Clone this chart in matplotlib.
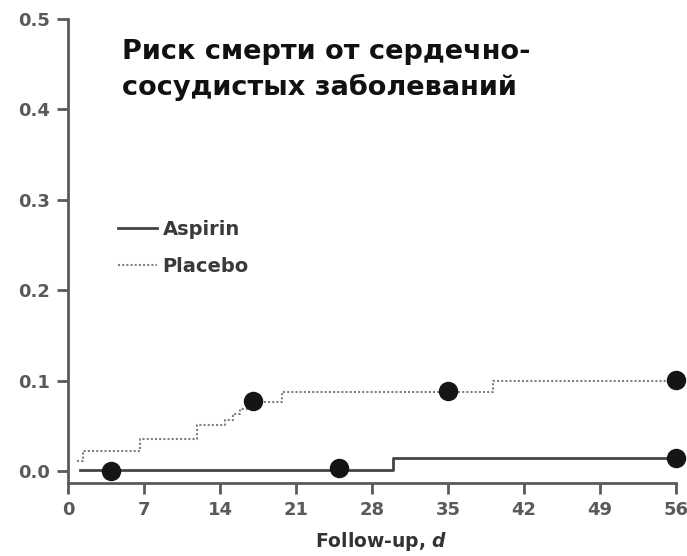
import matplotlib.pyplot as plt

# Kaplan-Meier style cumulative risk
placebo_t = [0.8, 1.4, 6.6, 11.9, 14.5, 15.2, 15.8, 16.5, 19.7, 39.1, 56]
placebo_v = [0.011, 0.022, 0.036, 0.051, 0.057, 0.063, 0.069, 0.076, 0.088, 0.100, 0.100]
aspirin_t = [1.1, 29.9, 56]
aspirin_v = [0.001, 0.014, 0.014]

placebo_dots_t = [17, 35, 56]
placebo_dots_v = [0.078, 0.089, 0.101]
aspirin_dots_t = [4, 25, 56]
aspirin_dots_v = [0.0, 0.003, 0.015]

x_ticks = [0, 7, 14, 21, 28, 35, 42, 49, 56]
y_ticks = [0.0, 0.1, 0.2, 0.3, 0.4, 0.5]

title = "Риск смерти от сердечно-\nсосудистых заболеваний"

gray = '#5a5a5a'

fig = plt.figure(figsize=(6.87, 5.56), dpi=100)
ax = fig.add_axes([0.099, 0.131, 0.885, 0.835])

ax.step(aspirin_t, aspirin_v, where='post', color='#444444', lw=2.0, label='Aspirin')
ax.step(placebo_t, placebo_v, where='post', color='#808080', lw=1.5,
        linestyle=(0, (1, 1)), label='Placebo')
ax.plot(aspirin_dots_t, aspirin_dots_v, 'o', color='#151515', ms=13, clip_on=False)
ax.plot(placebo_dots_t, placebo_dots_v, 'o', color='#151515', ms=13, clip_on=False)

ax.set_xlim(0, 56)
ax.set_ylim(-0.0133, 0.5)
ax.set_xticks(x_ticks)
ax.set_yticks(y_ticks)
ax.set_yticklabels([f'{v:.1f}' for v in y_ticks])

for side in ['top', 'right']:
    ax.spines[side].set_visible(False)
for side in ['left', 'bottom']:
    ax.spines[side].set_color(gray)
    ax.spines[side].set_linewidth(2)

ax.tick_params(direction='out', length=8, width=2, color=gray, labelcolor=gray,
               labelsize=13, pad=5)
for lab in ax.get_xticklabels() + ax.get_yticklabels():
    lab.set_fontweight('bold')

ax.set_xlabel(r'Follow-up, $\bfit{d}$', fontsize=13.5, fontweight='bold', color='#333333',
              labelpad=7)
ax.xaxis.set_label_coords(0.515, -0.1)

ax.text(0.089, 0.957, title, transform=ax.transAxes, fontsize=19.5, fontweight='bold',
        color='#111111', va='top', ha='left', linespacing=1.4)

leg = ax.legend(loc='upper left', bbox_to_anchor=(0.053, 0.605), frameon=False,
                handlelength=2.0, handletextpad=0.3, labelspacing=0.95,
                prop={'size': 14, 'weight': 'bold'})
for t in leg.get_texts():
    t.set_color('#3a3a3a')

fig.savefig('out.png', dpi=100)
